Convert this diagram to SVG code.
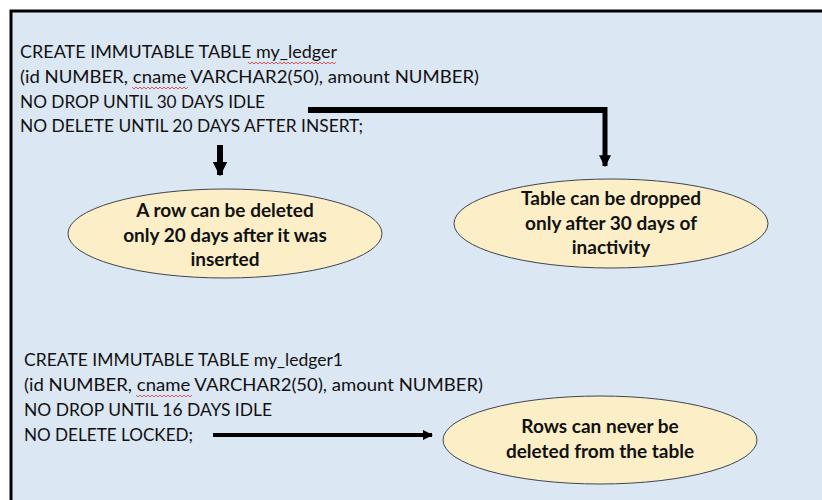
<svg xmlns="http://www.w3.org/2000/svg" width="822" height="500" viewBox="0 0 822 500">
  <defs>
    <style>
      .sql { font-family: Lato, "Liberation Sans", sans-serif; font-size: 18px; fill: #111; }
      .note { font-family: Lato, "Liberation Sans", sans-serif; font-size: 19px; font-weight: bold; fill: #111; text-anchor: middle; }
      .bubble { fill: #fcefc8; stroke: #3c4650; stroke-width: 1; }
      .wire { fill: none; stroke: #000; }
      .squiggle { fill: none; stroke: #d03030; stroke-width: 0.8; }
    </style>
    <marker id="head" viewBox="0 0 10 10" refX="9" refY="5" markerWidth="2.4" markerHeight="2.4" orient="auto" markerUnits="strokeWidth">
      <path d="M0,0 L10,5 L0,10 Z" fill="#000"/>
    </marker>
    <marker id="headThin" viewBox="0 0 10 10" refX="9" refY="5" markerWidth="2.6" markerHeight="2.6" orient="auto" markerUnits="strokeWidth">
      <path d="M0,0 L10,5 L0,10 Z" fill="#000"/>
    </marker>
  </defs>

  <!-- white page and framed panel -->
  <rect x="0" y="0" width="822" height="500" fill="#ffffff"/>
  <rect x="11" y="11" width="830" height="510" fill="#dce7f4" stroke="#000" stroke-width="3"/>

  <!-- first statement -->
  <g id="ledger-sql">
    <text class="sql" x="20" y="58" textLength="317" lengthAdjust="spacingAndGlyphs">CREATE IMMUTABLE TABLE my_ledger</text>
    <text class="sql" x="20" y="83" textLength="459" lengthAdjust="spacingAndGlyphs">(id NUMBER, cname VARCHAR2(50), amount NUMBER)</text>
    <text class="sql" x="20" y="108" textLength="245" lengthAdjust="spacingAndGlyphs">NO DROP UNTIL 30 DAYS IDLE</text>
    <text class="sql" x="20" y="132" textLength="343" lengthAdjust="spacingAndGlyphs">NO DELETE UNTIL 20 DAYS AFTER INSERT;</text>
    <path class="squiggle" d="M248,62 l2,2 l2,-2 l2,2 l2,-2 l2,2 l2,-2 l2,2 l2,-2 l2,2 l2,-2 l2,2 l2,-2 l2,2 l2,-2 l2,2 l2,-2 l2,2 l2,-2 l2,2 l2,-2 l2,2 l2,-2 l2,2 l2,-2 l2,2 l2,-2 l2,2 l2,-2 l2,2 l2,-2 l2,2 l2,-2 l2,2 l2,-2 l2,2 l2,-2 l2,2 l2,-2 l2,2 l2,-2 l2,2 l2,-2 l2,2 l2,-2"/>
    <path class="squiggle" d="M132,87 l2,2 l2,-2 l2,2 l2,-2 l2,2 l2,-2 l2,2 l2,-2 l2,2 l2,-2 l2,2 l2,-2 l2,2 l2,-2 l2,2 l2,-2 l2,2 l2,-2 l2,2 l2,-2 l2,2 l2,-2 l2,2 l2,-2 l2,2 l2,-2 l2,2 l2,-2"/>
  </g>

  <!-- second statement -->
  <g id="ledger1-sql">
    <text class="sql" x="24" y="366" textLength="319" lengthAdjust="spacingAndGlyphs">CREATE IMMUTABLE TABLE my_ledger1</text>
    <text class="sql" x="24" y="391" textLength="459" lengthAdjust="spacingAndGlyphs">(id NUMBER, cname VARCHAR2(50), amount NUMBER)</text>
    <text class="sql" x="24" y="416" textLength="248" lengthAdjust="spacingAndGlyphs">NO DROP UNTIL 16 DAYS IDLE</text>
    <text class="sql" x="24" y="441" textLength="169" lengthAdjust="spacingAndGlyphs">NO DELETE LOCKED;</text>
    <path class="squiggle" d="M136,395 l2,2 l2,-2 l2,2 l2,-2 l2,2 l2,-2 l2,2 l2,-2 l2,2 l2,-2 l2,2 l2,-2 l2,2 l2,-2 l2,2 l2,-2 l2,2 l2,-2 l2,2 l2,-2 l2,2 l2,-2 l2,2 l2,-2 l2,2 l2,-2 l2,2 l2,-2"/>
  </g>

  <!-- outcomes -->
  <g id="row-delete">
    <ellipse class="bubble" cx="225" cy="233.5" rx="157" ry="44.5"/>
    <text class="note" x="225" y="217">A row can be deleted</text>
    <text class="note" x="225" y="242">only 20 days after it was</text>
    <text class="note" x="225" y="266">inserted</text>
  </g>

  <g id="table-drop">
    <ellipse class="bubble" cx="611" cy="223.5" rx="157" ry="44.5"/>
    <text class="note" x="611" y="205">Table can be dropped</text>
    <text class="note" x="611" y="230">only after 30 days of</text>
    <text class="note" x="611" y="254">inactivity</text>
  </g>

  <g id="never-delete">
    <ellipse class="bubble" cx="600" cy="440" rx="157" ry="44"/>
    <text class="note" x="600" y="433">Rows can never be</text>
    <text class="note" x="600" y="458">deleted from the table</text>
  </g>

  <!-- connectors -->
  <g id="connectors">
    <path class="wire" d="M220,145 V175" stroke-width="6" marker-end="url(#head)"/>
    <path class="wire" d="M308,110 H605" stroke-width="6"/>
    <path class="wire" d="M605,107 V166" stroke-width="5" marker-end="url(#head)"/>
    <path class="wire" d="M213,435 H432" stroke-width="4" marker-end="url(#headThin)"/>
  </g>
</svg>
